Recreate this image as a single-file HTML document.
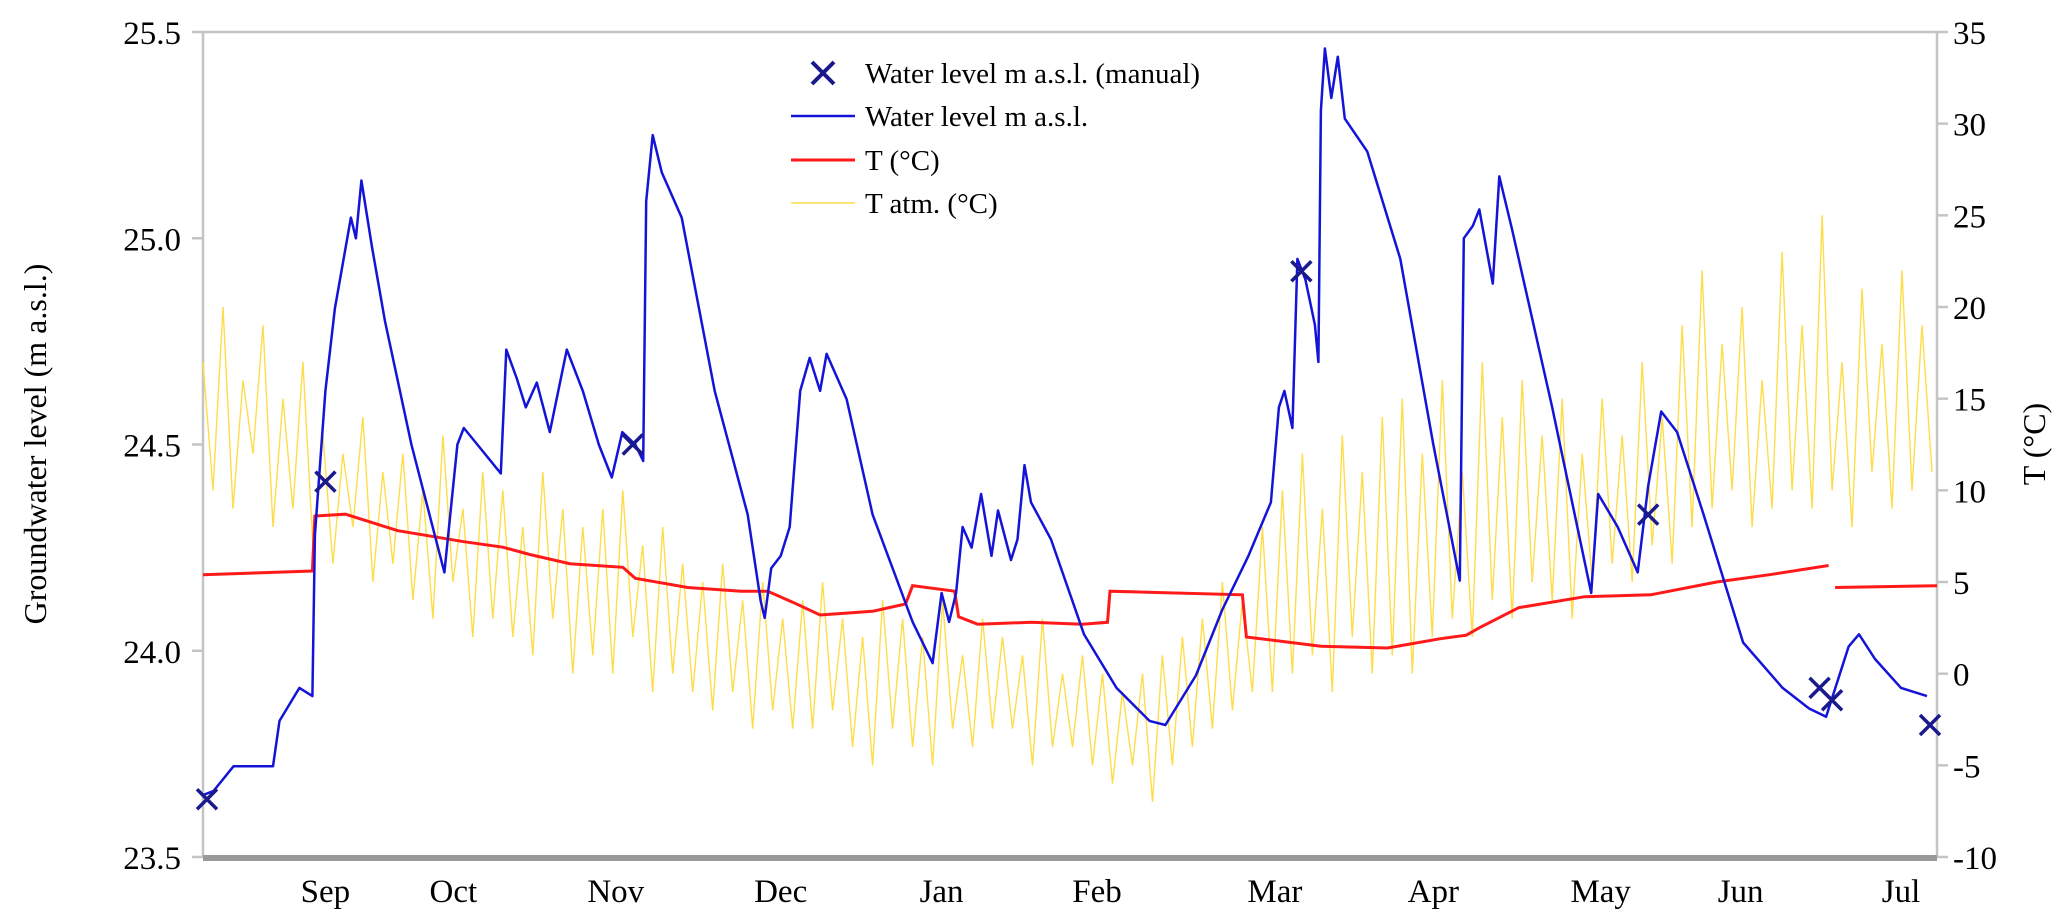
<!DOCTYPE html>
<html><head><meta charset="utf-8">
<style>
html,body{margin:0;padding:0;background:#fff;}
svg{display:block;font-family:"Liberation Serif",serif;}
</style></head>
<body>
<svg id="chart" width="2067" height="917" viewBox="0 0 2067 917" xmlns="http://www.w3.org/2000/svg">
<g id="axes"></g>
<g id="series"></g>
<g id="legend"></g>
</svg>
<script>
// ---- data ----
const monthLabels = ["Sep","Oct","Nov","Dec","Jan","Feb","Mar","Apr","May","Jun","Jul"];
const monthDays = [24.5,50.1,82.6,115.6,147.8,178.9,214.5,246.2,279.7,307.7,339.8];
const leftTicks = [23.5,24.0,24.5,25.0,25.5];
const leftTickLabels = ["23.5","24.0","24.5","25.0","25.5"];
const rightTicks = [-10,-5,0,5,10,15,20,25,30,35];
const rightTickLabels = ["-10","-5","0","5","10","15","20","25","30","35"];
const levelDays = [0,2.1,6.1,14,15.3,19.3,21.9,22.4,24.5,26.4,28,29.6,30.6,31.7,33.8,36.4,41.7,48.3,50.9,52.2,54.9,59.6,60.7,62.8,64.6,66.8,69.4,72.8,76,79.2,81.8,83.9,86.5,88.1,88.7,90,91.8,95.8,102.4,109,111.6,112.4,113.7,115.6,117.4,119.5,121.4,123.5,124.8,128.8,134,142,146,147.8,149.3,150.7,152,153.8,155.7,157.8,159.1,161.7,163,164.4,165.7,169.7,176.3,182.8,189.4,192.6,198.7,204,209.2,213.7,215.3,216.4,218,219,220.6,222.5,223.2,223.7,224.5,225.8,227.1,228.5,233,239.6,246.2,251.5,252.3,254.1,255.4,258.1,259.4,262,270,277.8,279.2,283.1,287.1,289.2,291.8,295,300.3,308.2,316.1,321.4,324.8,329.3,331.4,334.6,339.8,345];
const levelValues = [23.65,23.66,23.72,23.72,23.83,23.91,23.89,24.28,24.63,24.83,24.94,25.05,25.0,25.14,24.98,24.8,24.5,24.19,24.5,24.54,24.5,24.43,24.73,24.66,24.59,24.65,24.53,24.73,24.63,24.5,24.42,24.53,24.5,24.46,25.09,25.25,25.16,25.05,24.63,24.33,24.12,24.08,24.2,24.23,24.3,24.63,24.71,24.63,24.72,24.61,24.33,24.07,23.97,24.14,24.07,24.14,24.3,24.25,24.38,24.23,24.34,24.22,24.27,24.45,24.36,24.27,24.04,23.91,23.83,23.82,23.94,24.1,24.23,24.36,24.59,24.63,24.54,24.95,24.9,24.79,24.7,25.31,25.46,25.34,25.44,25.29,25.21,24.95,24.5,24.17,25.0,25.03,25.07,24.89,25.15,25.02,24.59,24.14,24.38,24.3,24.19,24.4,24.58,24.53,24.33,24.02,23.91,23.86,23.84,24.01,24.04,23.98,23.91,23.89];
const manualDays = [0.8,24.5,86,219.8,289.2,323.5,326,345.6];
const manualValues = [23.64,24.41,24.5,24.92,24.33,23.91,23.88,23.82];
const tempDays = [0,21.9,22.4,28.5,39,52.2,60,65.4,73.4,84,86.5,97,107.7,113,118,123.5,134,140.6,142,150.4,151.2,155,165.7,176,181,181.5,208,208.8,223.7,237,247.5,252.8,255.4,263.3,276.5,289.7,302.9,313.5,325.3,null,326.6,347];
const tempValues = [5.4,5.6,8.6,8.7,7.8,7.2,6.9,6.5,6.0,5.8,5.2,4.7,4.5,4.5,3.9,3.2,3.4,3.8,4.8,4.5,3.1,2.7,2.8,2.7,2.8,4.5,4.3,2.0,1.5,1.4,1.9,2.1,2.5,3.6,4.2,4.3,5.0,5.4,5.9,null,4.7,4.8];
const atmStartDay = 0, atmStepDays = 2;
const atmValues = [17,10,20,9,16,12,19,8,15,9, 17,7,13,6,12,8,14,5,11,6, 12,4,10,3,13,5,9,2,11,3, 10,2,8,1,11,3,9,0,8,1, 9,0,10,2,7,-1,8,0,6,-1, 5,-2,6,-1,4,-3,5,-2,3,-3, 4,-3,5,-2,3,-4,2,-5,4,-3, 3,-4,2,-5,4,-3,1,-4,3,-3, 2,-3,1,-5,3,-4,0,-4,1,-5, 0,-6,-1,-5,0,-7,1,-5,2,-4, 3,-3,5,-2,4,-1,8,-1,10,0, 12,1,9,-1,13,2,11,0,14,1, 15,0,12,2,16,3,11,2,17,4, 14,3,16,5,13,4,15,3,12,5, 15,6,13,5,17,7,14,6,19,8, 22,9,18,10,20,8,16,9,23,10, 19,9,25,10,17,8,21,11,18,9, 22,10,19,11];

// ---- scales ----
const X0=203, X1=1937, Y0=32, Y1=857, DMAX=347;
const xs = d => X0 + d*(X1-X0)/DMAX;
const yL = v => Y0 + (25.5-v)*(Y1-Y0)/2;
const yR = t => Y0 + (35-t)*(Y1-Y0)/45;
const NS="http://www.w3.org/2000/svg";
function mk(tag, attrs, parent){const e=document.createElementNS(NS,tag);for(const k in attrs)e.setAttribute(k,attrs[k]);parent.appendChild(e);return e;}
const axes=document.getElementById('axes'), series=document.getElementById('series'), legend=document.getElementById('legend');

let e;
e=mk('line',{x1:X0,y1:Y0,x2:X1,y2:Y0,stroke:'#c4c4c4','stroke-width':2.5},axes);


e=mk('line',{x1:X0,y1:Y0,x2:X0,y2:Y1,stroke:'#c4c4c4','stroke-width':2.5},axes);


e=mk('line',{x1:X1,y1:Y0,x2:X1,y2:Y1,stroke:'#c4c4c4','stroke-width':2.5},axes);


e=mk('line',{x1:X0,y1:Y1+1,x2:X1,y2:Y1+1,stroke:'#999','stroke-width':6},axes);



leftTicks.forEach((v,i)=>{
  const y=yL(v);
  const t=mk('line',{x1:X0-11,y1:y,x2:X0,y2:y,stroke:'#c4c4c4','stroke-width':2.5},axes);
  
  
  const l=mk('text',{x:X0-22,y:y+12,'text-anchor':'end','font-size':33,fill:'#000'},axes);
  l.textContent=leftTickLabels[i];
  
  
});
rightTicks.forEach((v,i)=>{
  const y=yR(v);
  const t=mk('line',{x1:X1,y1:y,x2:X1+11,y2:y,stroke:'#c4c4c4','stroke-width':2.5},axes);
  
  
  const l=mk('text',{x:X1+16,y:y+12,'text-anchor':'start','font-size':33,fill:'#000'},axes);
  l.textContent=rightTickLabels[i];
  
  
});
monthLabels.forEach((m,i)=>{
  const l=mk('text',{x:xs(monthDays[i]),y:902,'text-anchor':'middle','font-size':33,fill:'#000'},axes);
  l.textContent=m;
  
  
});
e=mk('text',{x:0,y:0,'text-anchor':'middle','font-size':32,fill:'#000',transform:'translate(46,444) rotate(-90)'},axes);
e.textContent='Groundwater level (m a.s.l.)';


e=mk('text',{x:0,y:0,'text-anchor':'middle','font-size':32,fill:'#000',transform:'translate(2045,444) rotate(-90)'},axes);
e.textContent='T (°C)';



let dA=''; atmValues.forEach((v,i)=>{dA+=(i?'L':'M')+xs(atmStartDay+i*atmStepDays).toFixed(1)+','+yR(v).toFixed(1);});
e=mk('path',{d:dA,fill:'none',stroke:'#ffdc4a','stroke-width':1.4},series);



let dT='', pen=false; tempDays.forEach((d,i)=>{ if(d===null){pen=false;return;} dT+=(pen?'L':'M')+xs(d).toFixed(1)+','+yR(tempValues[i]).toFixed(1); pen=true;});
e=mk('path',{d:dT,fill:'none',stroke:'#ff1a1a','stroke-width':3},series);



let dL=''; levelDays.forEach((d,i)=>{dL+=(i?'L':'M')+xs(d).toFixed(1)+','+yL(levelValues[i]).toFixed(1);});
e=mk('path',{d:dL,fill:'none',stroke:'#1414d8','stroke-width':2.5,'stroke-linejoin':'round'},series);



manualDays.forEach((d,i)=>{
  const cx=xs(d), cy=yL(manualValues[i]), r=10;
  const m=mk('path',{d:`M${cx-r},${cy-r}L${cx+r},${cy+r}M${cx-r},${cy+r}L${cx+r},${cy-r}`,stroke:'#1a1a8c','stroke-width':3.5,fill:'none'},series);
  
  
});

const LX=865;
e=mk('path',{d:`M${823-11},${73-11}L${823+11},${73+11}M${823-11},${73+11}L${823+11},${73-11}`,stroke:'#1a1a8c','stroke-width':4,fill:'none'},legend);


e=mk('line',{x1:791,y1:116,x2:855,y2:116,stroke:'#1414d8','stroke-width':2.5},legend);


e=mk('line',{x1:791,y1:160,x2:855,y2:160,stroke:'#ff1a1a','stroke-width':3},legend);


e=mk('line',{x1:791,y1:203,x2:855,y2:203,stroke:'#ffdc4a','stroke-width':1.5},legend);


[['Water level m a.s.l. (manual)',73],['Water level m a.s.l.',116],['T (°C)',160],['T atm. (°C)',203]].forEach(([t,y])=>{
  const l=mk('text',{x:LX,y:y+10,'font-size':29,fill:'#000'},legend);
  l.textContent=t;
  
  
});
</script>
</body></html>
